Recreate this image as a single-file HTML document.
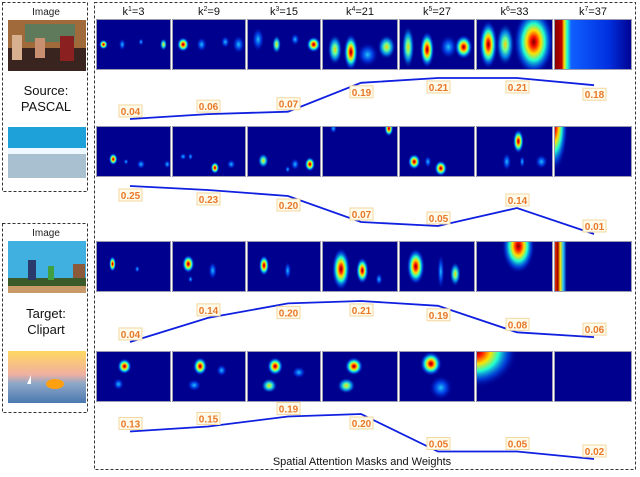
<!DOCTYPE html>
<html><head><meta charset="utf-8"><style>
html,body{margin:0;padding:0;background:#fff;}
body{width:640px;height:472px;position:relative;overflow:hidden;font-family:"Liberation Sans",sans-serif;}
</style></head><body>
<svg id="fig" width="640" height="472" viewBox="0 0 640 472" xmlns="http://www.w3.org/2000/svg" font-family="Liberation Sans, sans-serif">
<defs>
<radialGradient id="hot"><stop offset="0" stop-color="#7a0000"/><stop offset="0.15" stop-color="#ff1000"/><stop offset="0.35" stop-color="#ffe000"/><stop offset="0.55" stop-color="#20ffd0"/><stop offset="0.78" stop-color="#0060ff" stop-opacity="0.6"/><stop offset="1" stop-color="#00008f" stop-opacity="0"/></radialGradient>
<radialGradient id="mid"><stop offset="0" stop-color="#ffd000"/><stop offset="0.3" stop-color="#60ffa0"/><stop offset="0.6" stop-color="#00a0ff" stop-opacity="0.8"/><stop offset="1" stop-color="#00008f" stop-opacity="0"/></radialGradient>
<radialGradient id="weak"><stop offset="0" stop-color="#20c8ff"/><stop offset="0.5" stop-color="#0050ff" stop-opacity="0.7"/><stop offset="1" stop-color="#00008f" stop-opacity="0"/></radialGradient>
<linearGradient id="stripe1" x1="0" x2="1"><stop offset="0" stop-color="#7a0000"/><stop offset="0.1" stop-color="#c00000"/><stop offset="0.13" stop-color="#ffe000"/><stop offset="0.17" stop-color="#20ffd0"/><stop offset="0.22" stop-color="#1060ff"/><stop offset="0.7" stop-color="#0030e0"/><stop offset="1" stop-color="#00008f"/></linearGradient>
<linearGradient id="stripe2" x1="0" x2="1"><stop offset="0" stop-color="#ff4000"/><stop offset="0.05" stop-color="#a00000"/><stop offset="0.08" stop-color="#ffe000"/><stop offset="0.12" stop-color="#20c0ff"/><stop offset="0.16" stop-color="#00008f"/><stop offset="1" stop-color="#00008f"/></linearGradient>
<linearGradient id="sunset" x1="0" y1="0" x2="0" y2="1"><stop offset="0" stop-color="#ffd860"/><stop offset="0.45" stop-color="#f0b0a0"/><stop offset="0.62" stop-color="#8fa8c8"/><stop offset="1" stop-color="#4a78b0"/></linearGradient>
</defs>

<rect x="2.5" y="2.5" width="85" height="189" fill="none" stroke="#333" stroke-dasharray="3,2"/>
<text x="46" y="15" font-size="10" text-anchor="middle" fill="#222">Image</text>
<g>
<rect x="8" y="20" width="78" height="51" fill="#a06a3a"/><rect x="25" y="24" width="50" height="18" fill="#5e7a5a"/><rect x="8" y="48" width="78" height="23" fill="#3a2420"/><rect x="12" y="35" width="10" height="25" fill="#d8b090"/><rect x="35" y="38" width="10" height="20" fill="#c89070"/><rect x="60" y="36" width="14" height="25" fill="#8a2020"/></g>
<text x="46" y="95" font-size="13" text-anchor="middle" fill="#111">Source:</text>
<text x="46" y="111" font-size="13" text-anchor="middle" fill="#111">PASCAL</text>
<g>
<rect x="8" y="127" width="78" height="51" fill="#1ea0d8"/><rect x="8" y="148" width="78" height="6" fill="#f0f8ff"/><rect x="8" y="154" width="78" height="24" fill="#a8c0d0"/></g>

<rect x="2.5" y="223.5" width="85" height="189" fill="none" stroke="#333" stroke-dasharray="3,2"/>
<text x="46" y="236" font-size="10" text-anchor="middle" fill="#222">Image</text>
<g>
<rect x="8" y="241" width="78" height="52" fill="#40b0e0"/><rect x="8" y="278" width="78" height="8" fill="#3a5a2a"/><rect x="8" y="286" width="78" height="7" fill="#c89a6a"/><rect x="28" y="260" width="8" height="20" fill="#2a3a6a"/><rect x="48" y="266" width="6" height="14" fill="#40a040"/><rect x="73" y="264" width="12" height="14" fill="#8a5a3a"/></g>
<text x="46" y="318" font-size="13" text-anchor="middle" fill="#111">Target:</text>
<text x="46" y="334" font-size="13" text-anchor="middle" fill="#111">Clipart</text>
<g>
<rect x="8" y="351" width="78" height="52" fill="url(#sunset)"/><ellipse cx="55" cy="384" rx="9" ry="5" fill="#ffa010"/><path d="M27 384 l4 -9 l0 9z" fill="#fff"/></g>

<rect x="94.5" y="2.5" width="541" height="467" fill="none" stroke="#333" stroke-dasharray="3,2"/>
<text x="362" y="465" font-size="11" text-anchor="middle" fill="#111">Spatial Attention Masks and Weights</text>
<g id="grid"></g>
<g id="lines"></g>
</svg>
<script>
const kLabels = ['3','9','15','21','27','33','37'];
const kSup = ['1','2','3','4','5','6','7'];
const weightsRow1 = [0.04,0.06,0.07,0.19,0.21,0.21,0.18];
const weightsRow2 = [0.25,0.23,0.20,0.07,0.05,0.14,0.01];
const weightsRow3 = [0.04,0.14,0.20,0.21,0.19,0.08,0.06];
const weightsRow4 = [0.13,0.15,0.19,0.20,0.05,0.05,0.02];
const labelSideRow1 = ['a','a','a','b','b','b','b'];
const labelSideRow2 = ['b','b','b','a','a','a','a'];
const labelSideRow3 = ['a','a','b','b','b','a','a'];
const labelSideRow4 = ['a','a','a','b','a','a','a'];

const NS='http://www.w3.org/2000/svg';
const svg=document.getElementById('fig');
const grid=document.getElementById('grid');
const lines=document.getElementById('lines');
function mk(t,a,p){const e=document.createElementNS(NS,t);for(const k in a)e.setAttribute(k,a[k]);(p||svg).appendChild(e);return e;}

const colL=[96,172,247,322,399,476,554];
const colW=[75,74,74,76,76,77,78];
const rowT=[19,126,241,351];
const panelH=51;
const blobs=[
[[[.1,.5,.05,.08,'hot'],[.35,.5,.04,.1,'weak'],[.6,.45,.03,.06,'weak'],[.9,.5,.04,.1,'mid']],
 [[.15,.5,.07,.12,'hot'],[.4,.5,.06,.12,'weak'],[.72,.45,.05,.1,'weak'],[.9,.5,.07,.15,'weak']],
 [[.15,.4,.07,.2,'weak'],[.4,.5,.05,.15,'mid'],[.65,.4,.05,.1,'weak'],[.9,.5,.08,.13,'hot']],
 [[.17,.6,.08,.25,'mid'],[.38,.65,.08,.3,'hot'],[.6,.7,.12,.2,'weak'],[.85,.55,.1,.2,'mid']],
 [[.12,.55,.07,.35,'mid'],[.37,.6,.08,.3,'hot'],[.65,.55,.1,.2,'weak'],[.85,.55,.1,.2,'hot']],
 [[.16,.5,.1,.4,'hot'],[.38,.5,.1,.35,'mid'],[.75,.45,.22,.55,'hot']],
 'stripe1'],
[[[.23,.65,.05,.1,'hot'],[.6,.75,.05,.08,'weak'],[.95,.75,.04,.07,'weak'],[.4,.7,.03,.05,'weak']],
 [[.15,.6,.04,.06,'weak'],[.25,.6,.03,.06,'weak'],[.58,.82,.05,.1,'hot'],[.8,.75,.05,.08,'weak']],
 [[.22,.68,.06,.12,'mid'],[.65,.75,.05,.1,'weak'],[.85,.75,.06,.12,'hot'],[.55,.85,.03,.06,'weak']],
 [[.15,.05,.04,.08,'weak'],[.88,.05,.05,.13,'hot']],
 [[.2,.7,.07,.13,'hot'],[.38,.7,.04,.1,'weak'],[.55,.83,.07,.13,'hot']],
 [[.55,.3,.06,.2,'hot'],[.4,.7,.05,.15,'weak'],[.6,.7,.03,.1,'weak'],[.85,.7,.07,.12,'weak']],
 [[0,0,.15,.75,'hot']]],
[[[.22,.45,.04,.13,'hot'],[.55,.55,.03,.06,'weak']],
 [[.22,.45,.07,.15,'hot'],[.55,.58,.05,.15,'weak'],[.25,.75,.03,.06,'weak']],
 [[.23,.48,.06,.17,'hot'],[.55,.58,.04,.15,'weak']],
 [[.25,.55,.1,.35,'hot'],[.53,.58,.07,.22,'hot'],[.75,.75,.04,.1,'weak']],
 [[.22,.5,.1,.3,'hot'],[.55,.6,.04,.3,'weak'],[.74,.65,.06,.2,'mid']],
 [[.55,.1,.18,.45,'hot']],
 'stripe2'],
[[[.38,.3,.08,.13,'hot'],[.3,.65,.06,.1,'weak']],
 [[.38,.3,.08,.15,'hot'],[.67,.38,.06,.1,'weak'],[.3,.67,.08,.1,'weak']],
 [[.38,.3,.09,.15,'hot'],[.7,.42,.08,.1,'weak'],[.3,.68,.09,.12,'mid']],
 [[.42,.3,.1,.15,'hot'],[.32,.68,.1,.13,'mid']],
 [[.42,.25,.12,.2,'hot'],[.55,.72,.13,.2,'weak']],
 [[0,0,.45,.6,'hot']],
 []]
];

for(let c=0;c<7;c++){
  const t=mk('text',{x:colL[c]+colW[c]/2,y:15,'font-size':11,'text-anchor':'middle',fill:'#111'},grid);
  
  
  t.textContent='k';
  const s=mk('tspan',{'font-size':7,dy:-4},t);s.textContent=kSup[c];
  const v=mk('tspan',{dy:4},t);v.textContent='='+kLabels[c];
}
for(let r=0;r<4;r++){for(let c=0;c<7;c++){
  const x=colL[c],y=rowT[r],w=colW[c],h=panelH;
  const g=mk('g',{},grid);
  
  
  mk('clipPath',{id:'cp'+r+c},g);
  mk('rect',{x:x,y:y,width:w,height:h},g.lastChild);
  const b=blobs[r][c];
  mk('rect',{x:x,y:y,width:w,height:h,fill:typeof b==='string'?'url(#'+b+')':'#00008f'},g);
  const inner=mk('g',{'clip-path':'url(#cp'+r+c+')'},g);
  if(Array.isArray(b)) b.forEach(d=>mk('ellipse',{cx:x+d[0]*w,cy:y+d[1]*h,rx:d[2]*w*1.2,ry:d[3]*h*1.2,fill:'url(#'+d[4]+')'},inner));
  mk('rect',{x:x+.5,y:y+.5,width:w-1,height:h-1,fill:'none',stroke:'#9a9ab0','stroke-width':1},g);
}}
const xs=[130,208,288,361,438,517,594];
const rows=[[weightsRow1,labelSideRow1,128.6,241],[weightsRow2,labelSideRow2,236,200],[weightsRow3,labelSideRow3,351.6,241],[weightsRow4,labelSideRow4,464,250]];
rows.forEach((row,r)=>{
  const [vals,side,base,scale]=row;
  const yS=v=>base-v*scale;
  const pts=vals.map((v,i)=>xs[i]+','+yS(v).toFixed(1)).join(' ');
  const pl=mk('polyline',{points:pts,fill:'none',stroke:'#1020e0','stroke-width':1.8},lines);
  
  
  vals.forEach((v,i)=>{
    const cy=yS(v)+(side[i]==='a'?-8:9);
    const g=mk('g',{},lines);
    
    
    mk('rect',{x:xs[i]-11,y:cy-6,width:23,height:12,fill:'#fffbea',stroke:'#f3d7a0','stroke-width':1},g);
    const t=mk('text',{x:xs[i]+0.5,y:cy+4,'font-size':10,'font-weight':'bold','text-anchor':'middle',fill:'#e8782a'},g);
    t.textContent=v.toFixed(2);
  });
});
</script>
</body></html>
